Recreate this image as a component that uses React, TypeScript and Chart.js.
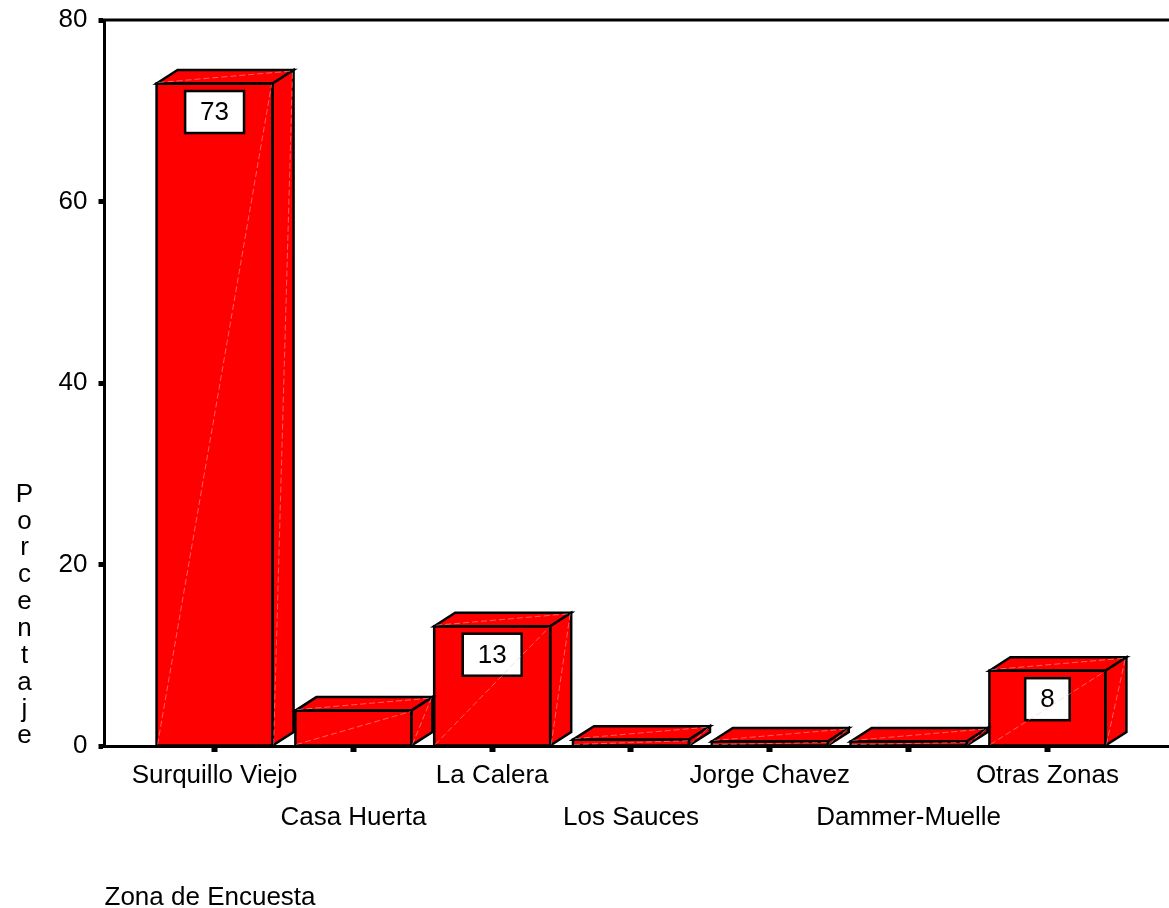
import React, { useEffect, useRef } from 'react';
import { Chart, registerables } from 'chart.js';

Chart.register(...registerables);

// ---- data ----
const categories = [
  'Surquillo Viejo',
  'Casa Huerta',
  'La Calera',
  'Los Sauces',
  'Jorge Chavez',
  'Dammer-Muelle',
  'Otras Zonas',
];
const percentages = [73.0, 3.9, 13.2, 0.7, 0.5, 0.5, 8.3];
const yTicks = [0, 20, 40, 60, 80];
const yTitle = 'Porcentaje';
const xTitle = 'Zona de Encuesta';

// ---- styles ----
const W = 1169;
const H = 908;
const FAMILY = 'Arial, "Liberation Sans", sans-serif';
const FONT_SIZE = 26;
const RED = '#ff0000';
const DEPTH_X = 21;
const DEPTH_Y = 13.5;

const bar3d = {
  id: 'bar3d',
  afterDatasetsDraw(chart: any) {
    const ctx = chart.ctx as CanvasRenderingContext2D;
    const meta = chart.getDatasetMeta(0);
    ctx.save();
    meta.data.forEach((el: any, i: number) => {
      const { x, y, base, width } = el.getProps(['x', 'y', 'base', 'width'], true);
      const l = x - width / 2;
      const r = x + width / 2;
      ctx.lineJoin = 'miter';
      ctx.strokeStyle = '#000';
      ctx.lineWidth = 2.5;
      ctx.fillStyle = RED;
      // top face
      ctx.beginPath();
      ctx.moveTo(l, y);
      ctx.lineTo(l + DEPTH_X, y - DEPTH_Y);
      ctx.lineTo(r + DEPTH_X, y - DEPTH_Y);
      ctx.lineTo(r, y);
      ctx.closePath();
      ctx.fill();
      ctx.stroke();
      // side face
      ctx.beginPath();
      ctx.moveTo(r, y);
      ctx.lineTo(r + DEPTH_X, y - DEPTH_Y);
      ctx.lineTo(r + DEPTH_X, base - DEPTH_Y);
      ctx.lineTo(r, base);
      ctx.closePath();
      ctx.fill();
      ctx.stroke();
      // front outline
      ctx.strokeRect(l, y, width, base - y);

      // value label
      const label = String(Math.round(percentages[i]));
      ctx.font = `${FONT_SIZE}px ${FAMILY}`;
      const tw = ctx.measureText(label).width;
      const bw = tw + 30;
      const bh = 42;
      const top = y + 7.5;
      const hasBox = base - y > bh + 16;
      if (hasBox) {
        ctx.fillStyle = '#fff';
        ctx.lineWidth = 2.5;
        ctx.fillRect(x - bw / 2, top, bw, bh);
        ctx.strokeRect(x - bw / 2, top, bw, bh);
        ctx.fillStyle = '#000';
        ctx.textAlign = 'center';
        ctx.textBaseline = 'middle';
        ctx.fillText(label, x, top + bh / 2 + 1);
      }

      // faint shading lines
      ctx.save();
      ctx.strokeStyle = 'rgba(255,185,185,0.75)';
      ctx.lineWidth = 0.7;
      ctx.setLineDash([6, 3]);
      ctx.beginPath();
      ctx.moveTo(l + 1, base - 1);
      ctx.lineTo(r - 1, y + 1);
      ctx.moveTo(r + 1, base - 1);
      ctx.lineTo(r + DEPTH_X - 1, y - DEPTH_Y + 1);
      ctx.moveTo(l + 2, y - 1);
      ctx.lineTo(r + DEPTH_X - 2, y - DEPTH_Y + 1);
      ctx.stroke();
      ctx.restore();
    });
    ctx.restore();
  },
  afterDraw(chart: any) {
    const ctx = chart.ctx as CanvasRenderingContext2D;
    const { left, right, top } = chart.chartArea;
    ctx.save();
    // top frame line
    ctx.strokeStyle = '#000';
    ctx.lineWidth = 3;
    ctx.beginPath();
    ctx.moveTo(left - 1.5, top);
    ctx.lineTo(right, top);
    ctx.stroke();
    // vertical y title
    ctx.fillStyle = '#000';
    ctx.font = `${FONT_SIZE}px ${FAMILY}`;
    ctx.textAlign = 'center';
    ctx.textBaseline = 'alphabetic';
    const letters = yTitle.split('');
    letters.forEach((ch, k) => {
      ctx.fillText(ch, 24.5, 501.7 + k * 26.85);
    });
    // x title
    ctx.textAlign = 'left';
    ctx.fillText(xTitle, 104.5, 905);
    ctx.restore();
  },
};

export default function App() {
  const ref = useRef<HTMLCanvasElement>(null);
  useEffect(() => {
    document.body.style.margin = '0';
    const canvas = ref.current!;
    const font = { family: FAMILY, size: FONT_SIZE };
    const chart = new Chart(canvas, {
      type: 'bar',
      data: {
        datasets: [
          {
            data: categories.map((_, i) => ({ x: i, y: percentages[i] })) as any,
            backgroundColor: RED,
            borderWidth: 0,
            barThickness: 116,
          },
        ],
      },
      options: {
        animation: false,
        responsive: false,
        devicePixelRatio: 1,
        layout: { padding: { top: 20, right: 0, left: 0, bottom: 0 } },
        plugins: { legend: { display: false }, tooltip: { enabled: false } },
        scales: {
          x: {
            type: 'linear',
            min: -0.793,
            max: 6.876,
            offset: false,
            afterBuildTicks: (axis: any) => {
              axis.ticks = categories.map((_, i) => ({ value: i }));
            },
            afterFit: (axis: any) => {
              axis.height = H - 746;
              axis.paddingLeft = 0;
              axis.paddingRight = 0;
              axis.paddingTop = 0;
              axis.paddingBottom = 0;
            },
            ticks: {
              autoSkip: false,
              maxRotation: 0,
              minRotation: 0,
              padding: 3,
              color: '#000',
              font: { ...font, lineHeight: 1.6 },
              callback: (v: any) => {
                const i = Math.round(Number(v));
                const name = categories[i] ?? '';
                return i % 2 ? ['', name] : name;
              },
            },
            grid: {
              offset: false,
              drawOnChartArea: false,
              drawTicks: true,
              tickLength: 6,
              tickWidth: 6,
              tickColor: '#000',
            },
            border: { display: true, color: '#000', width: 3 },
          },
          y: {
            min: 0,
            max: 80,
            afterBuildTicks: (axis: any) => {
              axis.ticks = yTicks.map((v) => ({ value: v }));
            },
            afterFit: (axis: any) => {
              axis.width = 104.5;
              axis.paddingLeft = 0;
              axis.paddingRight = 0;
              axis.paddingTop = 0;
              axis.paddingBottom = 0;
            },
            ticks: { color: '#000', font, padding: 11 },
            grid: {
              offset: false,
              drawOnChartArea: false,
              drawTicks: true,
              tickLength: 6,
              tickWidth: 5,
              tickColor: '#000',
            },
            border: { display: true, color: '#000', width: 3 },
          },
        },
      } as any,
      plugins: [bar3d],
    });
    return () => chart.destroy();
  }, []);
  return (
    <div style={{ width: W, height: H, background: '#fff' }}>
      <canvas ref={ref} width={W} height={H} style={{ display: 'block', width: W, height: H }} />
    </div>
  );
}
